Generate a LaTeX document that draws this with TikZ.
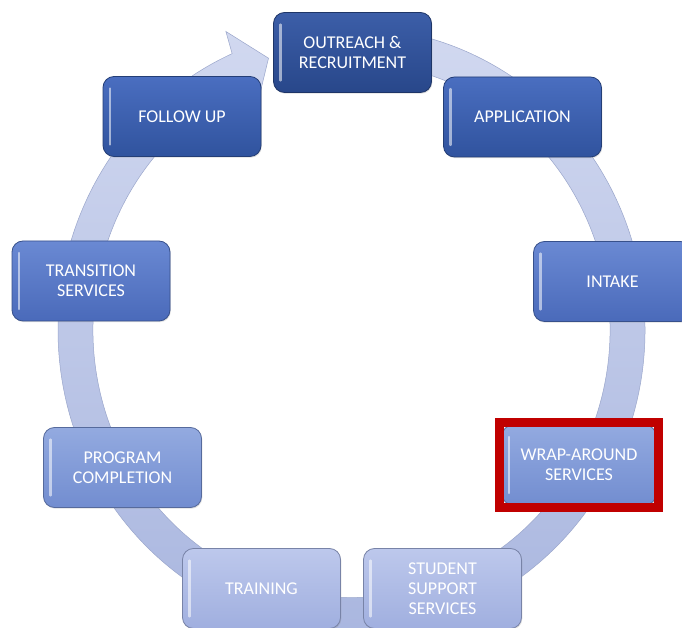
\documentclass[tikz,border=0pt]{standalone}
\usepackage{fontspec}
\newfontfamily\boxfont{Carlito}
\usetikzlibrary{fit,shadows}
\definecolor{ringtop}{HTML}{D2D9F0}
\definecolor{ringbot}{HTML}{A9B6DF}
\definecolor{hlred}{HTML}{C00000}
\definecolor{aT}{HTML}{3C5EA8}\definecolor{aB}{HTML}{28478A}
\definecolor{bT}{HTML}{4A6EC0}\definecolor{bB}{HTML}{30539E}
\definecolor{cT}{HTML}{6A89D3}\definecolor{cB}{HTML}{4A6ABA}
\definecolor{dT}{HTML}{93AAE0}\definecolor{dB}{HTML}{728DD0}
\definecolor{eT}{HTML}{BDC8EC}\definecolor{eB}{HTML}{A0AFDF}
\tikzset{
  cyclebox/.style 2 args={rounded corners=11pt, minimum width=158pt, minimum height=80pt,
    inner sep=0pt, align=center, text=white, font=\boxfont\fontsize{18}{20}\selectfont,
    top color=#1, bottom color=#2, draw=#2!75!black, line width=0.8pt,
    drop shadow={opacity=0.25, shadow xshift=0.8pt, shadow yshift=-1.2pt},
    path picture={\draw[white, opacity=0.55, line width=2.2pt, line cap=round]
      ([xshift=7pt,yshift=-12pt]path picture bounding box.north west) --
      ([xshift=7pt,yshift=12pt]path picture bounding box.south west);}},
  lvA/.style={cyclebox={aT}{aB}},
  lvB/.style={cyclebox={bT}{bB}},
  lvC/.style={cyclebox={cT}{cB}},
  lvD/.style={cyclebox={dT}{dB}},
  lvE/.style={cyclebox={eT}{eB}},
}
\begin{document}
\begin{tikzpicture}[x=1pt,y=1pt]
\fill[white] (0,0) rectangle (682,628);
\useasboundingbox (0,0) rectangle (682,628);
\coordinate (C) at (351.5,298);
% ring with arrowhead
\path[top color=ringtop, bottom color=ringbot, draw=ringbot!85!black!60!ringbot, line width=0.5pt]
  ([shift={(C)}]95:293.5pt and 302.5pt)
  arc[start angle=95, end angle=-246, x radius=293.5pt, y radius=302.5pt]
  -- ([shift={(C)}]113.5:315pt and 325.5pt)
  -- ([shift={(C)}]107.5:276pt and 285pt)
  -- ([shift={(C)}]113.5:237pt and 244.5pt)
  -- ([shift={(C)}]114:258.5pt and 267.5pt)
  arc[start angle=-246, end angle=95, x radius=258.5pt, y radius=267.5pt]
  -- cycle;
% boxes
\node[lvA] (out) at (352.5,575.5) {OUTREACH \&\\RECRUITMENT};
\node[lvB] (app) at (522.5,511) {APPLICATION};
\node[lvC] (intake) at (612.5,346.5) {INTAKE};
\node[lvD, minimum width=154pt] (wrap) at (579,163) {WRAP-AROUND\\SERVICES};
\node[lvE] (student) at (442.5,39.5) {STUDENT\\SUPPORT\\SERVICES};
\node[lvE] (training) at (261.5,39.5) {TRAINING};
\node[lvD] (program) at (122.5,160.5) {PROGRAM\\COMPLETION};
\node[lvC] (transition) at (91,347) {TRANSITION\\SERVICES};
\node[lvB] (follow) at (182,511.5) {FOLLOW UP};
% highlight frame
\node[draw=hlred, line width=9pt, fit=(wrap), inner xsep=2pt, inner ysep=2.5pt] (hl) {};
\end{tikzpicture}
\end{document}
